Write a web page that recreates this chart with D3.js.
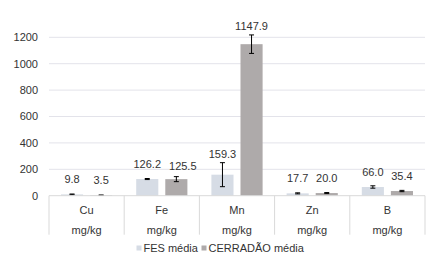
<!DOCTYPE html>
<html>
<head>
<meta charset="utf-8">
<script src="https://cdn.jsdelivr.net/npm/d3@7"></script>
<style>
  body { margin: 0; background: #fff; }
  text { font-family: "Liberation Sans", Arial, sans-serif; }
</style>
</head>
<body>
<svg id="chart"></svg>
<script>
const categories = ["Cu", "Fe", "Mn", "Zn", "B"];
const unitLabels = ["mg/kg", "mg/kg", "mg/kg", "mg/kg", "mg/kg"];
const seriesNames = ["FES média", "CERRADÃO média"];
const fesValues = [9.8, 126.2, 159.3, 17.7, 66.0];
const cerradaoValues = [3.5, 125.5, 1147.9, 20.0, 35.4];
const fesErrors = [3, 4, 91, 4, 9];
const cerradaoErrors = [2, 19, 70, 4, 5];
const yTicks = [0, 200, 400, 600, 800, 1000, 1200];

const width = 430, height = 257;
const margin = { top: 37.3, right: 5, bottom: 61.3, left: 49 };
const colors = ["#d6dce5", "#aeaaaa"];

const svg = d3.select("#chart").attr("width", width).attr("height", height);
const chart = svg.append("g")
    .attr("transform", `translate(${margin.left},${margin.top})`);

const w = width - margin.left - margin.right;
const h = height - margin.top - margin.bottom;

const x = d3.scaleBand().domain(categories).range([0, w]).padding(0);
const inner = d3.scaleBand().domain([0, 1]).range([12, x.bandwidth() - 12]).paddingInner(0.24);
const y = d3.scaleLinear().domain([0, 1200]).range([h, 0]);

// gridlines
chart.selectAll(".grid").data(yTicks.slice(1)).join("line")
    .attr("x1", 0).attr("x2", w)
    .attr("y1", d => y(d)).attr("y2", d => y(d))
    .attr("stroke", "#e3e3ea").attr("stroke-width", 1);

// y tick labels
chart.selectAll(".ytick").data(yTicks).join("text")
    .attr("x", -11).attr("y", d => y(d)).attr("dy", "0.35em")
    .attr("text-anchor", "end").attr("font-size", 11).attr("fill", "#333")
    .text(d => d);

const rows = categories.map((c, i) => ({
  cat: c,
  vals: [
    { s: 0, v: fesValues[i], e: fesErrors[i] },
    { s: 1, v: cerradaoValues[i], e: cerradaoErrors[i] }
  ]
}));

const groups = chart.selectAll(".cat").data(rows).join("g")
    .attr("transform", d => `translate(${x(d.cat)},0)`);

const cx = d => inner(d.s) + inner.bandwidth() / 2;

groups.selectAll("rect").data(d => d.vals).join("rect")
    .attr("x", d => inner(d.s)).attr("width", inner.bandwidth())
    .attr("y", d => y(d.v)).attr("height", d => h - y(d.v))
    .attr("fill", d => colors[d.s]);

// error bars
const eb = groups.selectAll(".err").data(d => d.vals).join("g");
eb.append("line")
    .attr("x1", cx).attr("x2", cx)
    .attr("y1", d => y(d.v + d.e)).attr("y2", d => y(Math.max(0, d.v - d.e)))
    .attr("stroke", "#000").attr("stroke-width", 1);
eb.selectAll(".cap").data(d => [d.v + d.e, Math.max(0, d.v - d.e)].map(val => ({ s: d.s, val })))
    .join("line")
    .attr("x1", d => cx(d) - 2.5).attr("x2", d => cx(d) + 2.5)
    .attr("y1", d => y(d.val)).attr("y2", d => y(d.val))
    .attr("stroke", "#000").attr("stroke-width", 1);

// value labels: above the bar, pushed above the error bar when needed
groups.selectAll(".lbl").data(d => d.vals).join("text")
    .attr("class", "lbl")
    .attr("x", cx)
    .attr("y", d => Math.min(y(d.v) - 11, y(d.v + d.e) - 5))
    .attr("text-anchor", "middle").attr("font-size", 11).attr("fill", "#333")
    .text(d => d.v.toFixed(1));

// nudge the second label right if the pair sits too close
groups.each(function() {
  const t = d3.select(this).selectAll("text.lbl").nodes();
  if (t.length < 2) return;
  const a = t[0].getBBox(), b = t[1].getBBox();
  const overlap = a.x + a.width + 8 - b.x;
  const vOverlap = Math.abs(a.y - b.y) < a.height;
  if (overlap > 1 && vOverlap) {
    d3.select(t[1]).attr("x", +d3.select(t[1]).attr("x") + overlap)
      .attr("y", +d3.select(t[1]).attr("y") + 1.5);
  }
});

// baseline and category dividers
chart.append("line")
    .attr("x1", 0).attr("x2", w).attr("y1", h).attr("y2", h)
    .attr("stroke", "#d9d9d9");
chart.selectAll(".div").data(categories.map(c => x(c)).concat([w])).join("line")
    .attr("x1", d => d).attr("x2", d => d)
    .attr("y1", h).attr("y2", h + 39)
    .attr("stroke", "#d9d9d9");

// category labels
groups.append("text")
    .attr("x", x.bandwidth() / 2).attr("y", h + 14).attr("dy", "0.35em")
    .attr("text-anchor", "middle").attr("font-size", 11).attr("fill", "#333")
    .text(d => d.cat);
groups.append("text")
    .attr("x", x.bandwidth() / 2).attr("y", h + 34).attr("dy", "0.35em")
    .attr("text-anchor", "middle").attr("font-size", 11).attr("fill", "#333")
    .text((d, i) => unitLabels[i]);

// legend
const legendX = [136.5, 201.5];
const legend = svg.selectAll(".leg").data(seriesNames).join("g")
    .attr("transform", (d, i) => `translate(${legendX[i]},248)`);
legend.append("rect")
    .attr("x", 0).attr("y", -2.5).attr("width", 5).attr("height", 5)
    .attr("fill", (d, i) => colors[i]);
legend.append("text")
    .attr("x", 7).attr("y", 0).attr("dy", "0.35em")
    .attr("font-size", 11).attr("fill", "#333")
    .text(d => d);
</script>
</body>
</html>
